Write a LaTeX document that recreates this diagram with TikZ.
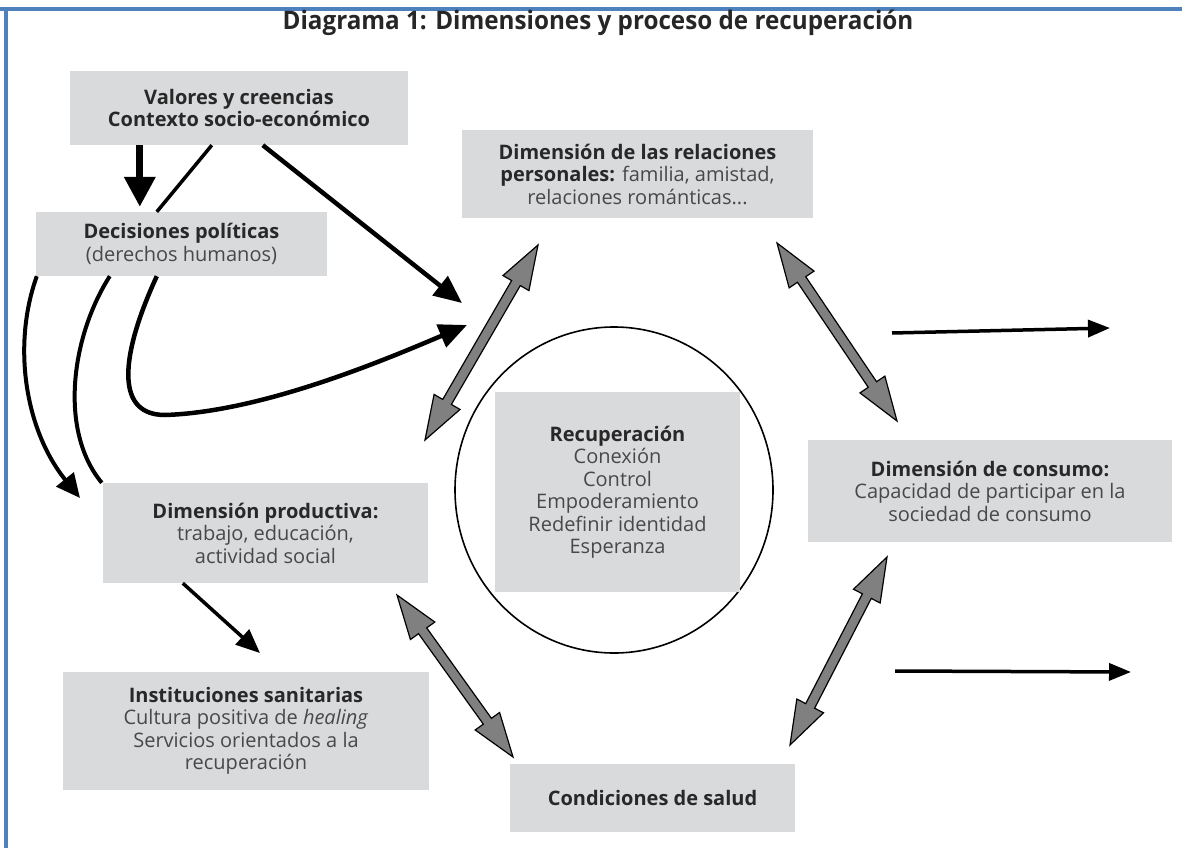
\documentclass[tikz,border=0pt]{standalone}
\usepackage{fontspec}
\setmainfont{Open Sans}
\newfontfamily\titlefont[FakeStretch=0.95]{Open Sans}
\usetikzlibrary{arrows.meta,calc,shapes.geometric}

\definecolor{framebl}{RGB}{79,129,189}
\definecolor{boxgray}{RGB}{217,218,220}
\definecolor{fatgray}{RGB}{128,128,128}
\definecolor{txtdark}{RGB}{40,40,40}
\definecolor{txtreg}{RGB}{72,72,72}

\newcommand\hd[1]{\textbf{\color{txtdark}#1}}

% fat two-headed grey arrow between two tip points
\def\fhl{44pt}  % head length
\def\fhw{15pt}  % half width of the head
\def\fsw{5pt}   % half width of the shaft
\newcommand\fatdouble[2]{%
  \draw[fatarr]
    (#1)
    -- ($(#1)!\fhl!(#2)!\fhw!90:(#2)$)
    -- ($(#1)!\fhl!(#2)!\fsw!90:(#2)$)
    -- ($(#2)!\fhl!(#1)!\fsw!-90:(#1)$)
    -- ($(#2)!\fhl!(#1)!\fhw!-90:(#1)$)
    -- (#2)
    -- ($(#2)!\fhl!(#1)!\fhw!90:(#1)$)
    -- ($(#2)!\fhl!(#1)!\fsw!90:(#1)$)
    -- ($(#1)!\fhl!(#2)!\fsw!-90:(#2)$)
    -- ($(#1)!\fhl!(#2)!\fhw!-90:(#2)$)
    -- cycle;}

\tikzset{
  box/.style 2 args={fill=boxgray, inner sep=0pt, align=center,
    minimum width=#1pt, minimum height=#2pt,
    font=\fontsize{20}{22.5}\selectfont, text=txtreg},
  fatarr/.style={fill=fatgray, draw=black, line width=1.2pt, line join=miter},
  blk/.style={draw=black, line width=#1},
}

\begin{document}
\begin{tikzpicture}[x=1pt, y=-1pt]
  \fill[white] (0,0) rectangle (1182,848);
  \useasboundingbox (0,0) rectangle (1182,848);

  % frame lines
  \draw[framebl, line width=4pt] (0,9.5) -- (1182,9.5);
  \draw[framebl, line width=4pt] (6,9.5) -- (6,848);

  % title
  \node[font=\titlefont\bfseries\fontsize{25.5}{28}\selectfont, text=black!85]
    (title) at (598,23) {Diagrama 1: Dimensiones y proceso de recuperación};

  % boxes
  \node[box={338}{74}] (valores) at (239,108)
    {\hd{Valores y creencias}\\\hd{Contexto socio-económico}};
  \node[box={291}{64}] (decisiones) at (181.5,244)
    {\hd{Decisiones políticas}\\(derechos humanos)};
  \node[box={351}{88}] (relaciones) at (637.5,174)
    {\hd{Dimensión de las relaciones}\\\hd{personales:} familia, amistad,\\relaciones románticas...};
  \node[box={325}{100}] (productiva) at (265.5,533)
    {\hd{Dimensión productiva:}\\trabajo, educación,\\actividad social};
  \node[box={366}{118}] (instituciones) at (246,731)
    {\hd{Instituciones sanitarias}\\Cultura positiva de \textit{healing}\\Servicios orientados a la\\recuperación};
  \node[box={285}{68}] (condiciones) at (652.5,798)
    {\hd{Condiciones de salud}};
  \node[box={364}{102}] (consumo) at (990,491)
    {\hd{Dimensión de consumo:}\\Capacidad de participar en la\\sociedad de consumo};

  % recovery core
  \node[draw, ellipse, line width=1.6pt, minimum width=318pt, minimum height=326pt,
    inner sep=0pt] (ring) at (614,490) {};
  \node[box={245}{200}] (recuperacion) at (617.5,492)
    {\hd{Recuperación}\\Conexión\\Control\\Empoderamiento\\Redefinir identidad\\Esperanza};

  % free ends of the connectors
  \coordinate (hubA) at (462,303);
  \coordinate (hubB) at (467,325);
  \coordinate (prodTip) at (80,498);
  \coordinate (instTip) at (260,653);
  \coordinate (outAs) at (892,333);
  \coordinate (outAe) at (1110,328);
  \coordinate (outBs) at (895,671);
  \coordinate (outBe) at (1131,672);
  \coordinate (relLa) at (538,245);
  \coordinate (relLb) at (425,440);
  \coordinate (relRa) at (777,243);
  \coordinate (relRb) at (897,421);
  \coordinate (prdSa) at (397,595);
  \coordinate (prdSb) at (513,757);
  \coordinate (conSa) at (887,557);
  \coordinate (conSb) at (790,745);

  % black influence arrows
  \draw[blk=7pt, -{Triangle[length=30pt,width=30pt]}, shorten >=5pt]
    ([xshift=70pt]valores.south west) -- ([xshift=104pt]decisiones.north west);
  \draw[blk=3.5pt]
    ([xshift=142pt]valores.south west) -- ([xshift=121pt]decisiones.north west);
  \draw[blk=4.5pt, -{Triangle[length=28pt,width=24pt]}]
    ([xshift=193pt]valores.south west) -- (hubA);
  \draw[blk=4pt, -{Triangle[length=24pt,width=22pt]}]
    ([xshift=1pt]decisiones.south west) .. controls (12,345) and (25,430) .. (prodTip);
  \draw[blk=4pt]
    ([xshift=74pt]decisiones.south west) .. controls (72,335) and (58,430) .. ([xshift=-1pt]productiva.north west);
  \draw[blk=4.5pt, -{Triangle[length=28pt,width=24pt]}]
    ([xshift=121pt]decisiones.south west) .. controls (125,345) and (110,415) .. (165,415)
    .. controls (260,412) and (380,362) .. (hubB);
  \draw[blk=3.5pt, -{Triangle[length=24pt,width=20pt]}]
    ([xshift=80pt]productiva.south west) -- (instTip);
  \draw[blk=3.5pt, -{Triangle[length=22pt,width=17pt]}] (outAs) -- (outAe);
  \draw[blk=3.5pt, -{Triangle[length=22pt,width=17pt]}] (outBs) -- (outBe);

  % grey two-way arrows around the core
  \fatdouble{relLa}{relLb}
  \fatdouble{relRa}{relRb}
  \fatdouble{prdSa}{prdSb}
  \fatdouble{conSa}{conSb}
\end{tikzpicture}
\end{document}
